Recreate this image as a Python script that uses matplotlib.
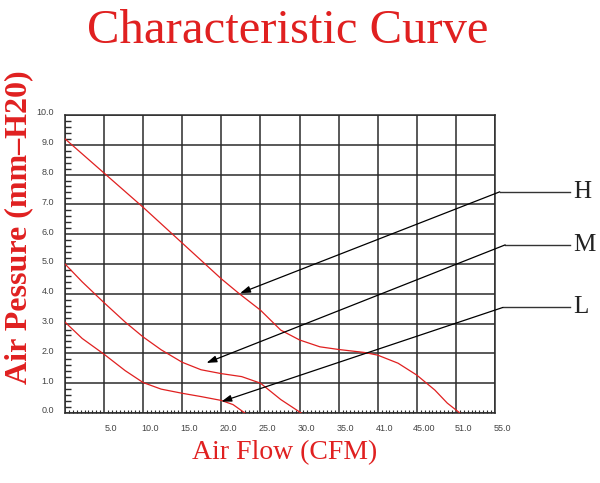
import matplotlib
matplotlib.use("Agg")
from matplotlib import pyplot as plt
from matplotlib import transforms
from matplotlib.ticker import MultipleLocator

# Curve data (air flow CFM -> pressure mmH2O)
h_flow = [0, 5, 10, 15, 20, 22.3, 25, 27.6, 30, 32.6, 35, 38.3, 40, 42.6, 45, 47.3, 48.9, 50.5]
h_pres = [9.2, 8.05, 6.9, 5.7, 4.5, 4.0, 3.45, 2.78, 2.45, 2.22, 2.13, 2.03, 1.94, 1.67, 1.27, 0.77, 0.33, 0.0]

m_flow = [0, 2.2, 5, 7.7, 10, 12.3, 15, 17.4, 20, 22.6, 25, 27.6, 30.2]
m_pres = [5.0, 4.4, 3.7, 3.05, 2.55, 2.12, 1.7, 1.45, 1.32, 1.22, 1.0, 0.45, 0.0]

l_flow = [0, 2.2, 5, 7.7, 10, 12.3, 15, 17.4, 20, 21.5, 23]
l_pres = [3.05, 2.5, 1.97, 1.42, 1.02, 0.8, 0.66, 0.55, 0.42, 0.28, 0.0]

# speed labels: name, arrow tip, knee, end of leader line
speed_names = ["H", "M", "L"]
arrow_tips = [(22.4, 4.02), (18.1, 1.68), (20.0, 0.38)]
arrow_knees = [(55.6, 7.42), (56.3, 5.64), (56.0, 3.54)]
leader_end = 64.6

x_ticks = [0, 5, 10, 15, 20, 25, 30, 35, 40, 45, 50, 55]
x_labels = ["", "5.0", "10.0", "15.0", "20.0", "25.0", "30.0", "35.0", "41.0", "45.00", "51.0", "55.0"]
y_ticks = [0, 1, 2, 3, 4, 5, 6, 7, 8, 9, 10]
y_labels = ["0.0", "1.0", "2.0", "3.0", "4.0", "5.0", "6.0", "7.0", "8.0", "9.0", "10.0"]

red = "#e02020"
grid_col = "#2b2b2b"

fig = plt.figure(figsize=(6, 4.83), dpi=100)
ax = fig.add_axes([0.1083, 0.145, 0.7167, 0.617])

for fl, pr in [(h_flow, h_pres), (m_flow, m_pres), (l_flow, l_pres)]:
    ax.plot(fl, pr, color=red, lw=0.9, zorder=3)

ax.set_xlim(0, 55)
ax.set_ylim(0, 10)
ax.set_xticks(x_ticks)
ax.set_xticklabels(x_labels)
ax.set_yticks(y_ticks)
ax.set_yticklabels(y_labels)
ax.xaxis.set_minor_locator(MultipleLocator(0.5))
ax.yaxis.set_minor_locator(MultipleLocator(0.2))
ax.grid(True, which="major", color=grid_col, lw=1.1)
ax.tick_params(which="major", length=0, pad=8, labelsize=6.5, labelcolor="#444444")
ax.tick_params(axis="x", which="minor", direction="in", length=2.5, width=0.8, color=grid_col)
ax.tick_params(axis="y", which="minor", direction="in", length=4, width=1.0, color=grid_col)
for sp in ax.spines.values():
    sp.set_color(grid_col)
    sp.set_linewidth(1.1)

# nudge tick labels like the scanned original
dx = transforms.ScaledTranslation(7 / 100, 0, fig.dpi_scale_trans)
for lab in ax.get_xticklabels():
    lab.set_transform(lab.get_transform() + dx)
    lab.set_family("Liberation Sans")
dy = transforms.ScaledTranslation(0, 3 / 100, fig.dpi_scale_trans)
for lab in ax.get_yticklabels():
    lab.set_transform(lab.get_transform() + dy)
    lab.set_family("Liberation Sans")

# arrows + leader lines
for name, tip, knee in zip(speed_names, arrow_tips, arrow_knees):
    ax.annotate("", xy=tip, xytext=knee, annotation_clip=False,
                arrowprops=dict(arrowstyle="-|>,head_length=0.6,head_width=0.2",
                                color="black", lw=0.9, shrinkA=0, shrinkB=0))
    ax.plot([knee[0], leader_end], [knee[1], knee[1]], color="#333333", lw=1.0, clip_on=False)
    ax.text(leader_end + 0.4, knee[1], name, ha="left", va="center",
            family="Liberation Serif", fontsize=18, color="#222222")

fig.text(0.479, 0.935, "Characteristic Curve", ha="center", va="center",
         family="Liberation Serif", fontsize=35, color=red)
fig.text(0.475, 0.062, "Air Flow (CFM)", ha="center", va="center",
         family="Liberation Serif", fontsize=20, color=red)
fig.text(0.032, 0.53, "Air Pessure (mm\u2013H20)", ha="center", va="center", rotation=90,
         family="Liberation Serif", fontweight="bold", fontsize=23, color=red)

fig.savefig("out.png", dpi=100)
